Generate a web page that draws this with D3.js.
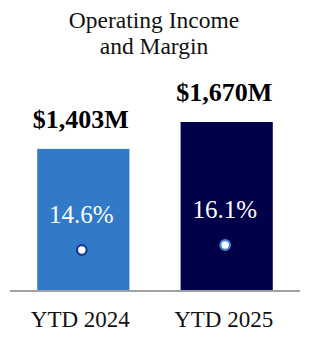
<!DOCTYPE html>
<html>
<head>
<meta charset="UTF-8">
<title>Operating Income and Margin</title>
<script src="https://cdn.jsdelivr.net/npm/d3@7"></script>
<style>
  body { margin: 0; background: #fff; }
  svg text, svg tspan { font-family: 'Liberation Serif', serif !important; }
</style>
</head>
<body>
<script>
const categories = ['YTD 2024', 'YTD 2025'];
const income = [1403, 1670];          // $M
const margin = [14.6, 16.1];          // %
const incomeLabels = ['$1,403M', '$1,670M'];
const barColors = ['#3279c8', '#010149'];
const dotStrokes = ['#143c96', '#4a80d8'];

const serif = "'Liberation Serif', serif";
const width = 310, height = 344;
const svg = d3.select('body').append('svg')
    .attr('width', width)
    .attr('height', height);

const x = d3.scaleBand()
    .domain(categories)
    .range([10, 300])
    .paddingInner(0.357)
    .paddingOuter(0.19);

const y = d3.scaleLinear()
    .domain([0, 1670])
    .range([290, 122]);

// margin dots sit on their own small scale
const ym = d3.scaleLinear()
    .domain([10, 20])
    .range([265.3, 232]);

const data = categories.map((c, i) => ({
    cat: c, value: income[i], margin: margin[i], label: incomeLabels[i],
    color: barColors[i], stroke: dotStrokes[i]
}));

// title
svg.append('text')
    .style('font-family', serif)
    .attr('text-anchor', 'middle')
    .attr('font-size', 23.5)
    .attr('fill', '#111')
    .selectAll('tspan')
    .data(['Operating Income', 'and Margin'])
    .join('tspan')
    .style('font-family', serif)
    .attr('x', 154)
    .attr('y', (d, i) => 28 + i * 26)
    .text(d => d);

// bars
svg.append('g')
    .selectAll('rect')
    .data(data)
    .join('rect')
    .attr('x', d => x(d.cat))
    .attr('y', d => y(d.value))
    .attr('width', x.bandwidth())
    .attr('height', d => y(0) - y(d.value))
    .attr('fill', d => d.color);

// value labels
svg.append('g')
    .selectAll('text')
    .data(data)
    .join('text')
    .style('font-family', serif)
    .attr('x', d => x(d.cat) + x.bandwidth() / 2 - 2.5)
    .attr('y', d => y(d.value) - 21)
    .attr('text-anchor', 'middle')
    .attr('font-size', 26)
    .attr('font-weight', 'bold')
    .text(d => d.label);

// margin labels
svg.append('g')
    .selectAll('text')
    .data(data)
    .join('text')
    .style('font-family', serif)
    .attr('x', d => x(d.cat) + x.bandwidth() / 2 - 2)
    .attr('y', d => ym(d.margin) - 27)
    .attr('text-anchor', 'middle')
    .attr('font-size', 25)
    .attr('fill', '#fff')
    .text(d => d.margin.toFixed(1) + '%');

// glow for dark bar dot
const defs = svg.append('defs');
defs.append('filter').attr('id', 'soft')
    .append('feGaussianBlur').attr('stdDeviation', 0.6);

svg.append('g')
    .selectAll('circle')
    .data(data)
    .join('circle')
    .attr('cx', d => x(d.cat) + x.bandwidth() / 2 - 1.5)
    .attr('cy', d => ym(d.margin))
    .attr('r', 4.8)
    .attr('fill', '#fff')
    .attr('stroke', d => d.stroke)
    .attr('stroke-width', 2.2)
    .attr('filter', (d, i) => i === 1 ? 'url(#soft)' : null);

// baseline axis
const axis = svg.append('g')
    .attr('transform', `translate(0,${y(0) + 1})`)
    .call(d3.axisBottom(x).tickSize(0).tickPadding(20));
axis.select('.domain')
    .attr('d', 'M10,0H300')
    .attr('stroke', '#a0a0a0')
    .attr('stroke-width', 2);
axis.selectAll('.tick text')
    .style('font-family', serif)
    .attr('font-size', 23)
    .attr('fill', '#111')
    .attr('dx', -3);
</script>
</body>
</html>
